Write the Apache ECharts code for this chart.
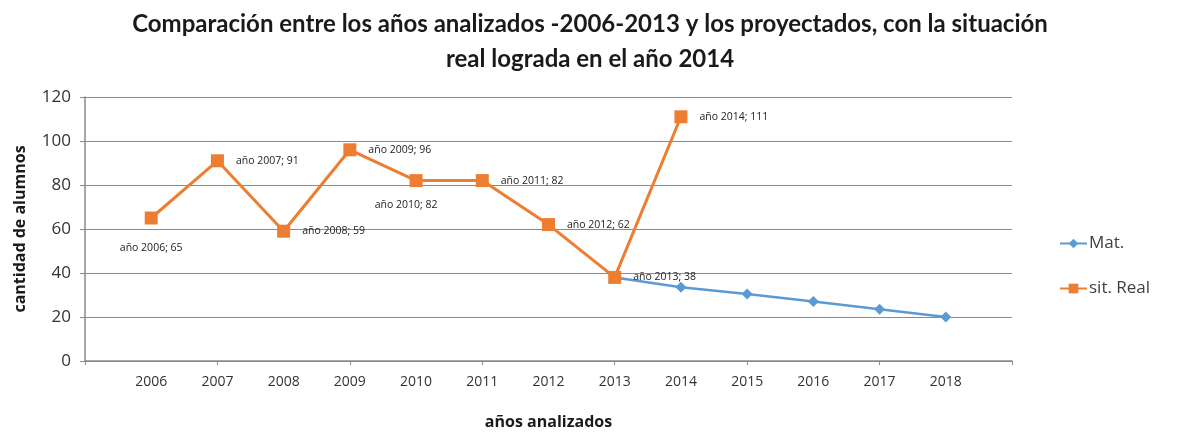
<!DOCTYPE html>
<html>
<head>
<meta charset="utf-8">
<script src="https://cdn.jsdelivr.net/npm/echarts@6/dist/echarts.min.js"></script>
<style>
html,body{margin:0;padding:0;background:#fff;}
#chart{width:1179px;height:432px;}
</style>
</head>
<body>
<div id="chart"></div>
<script>
// Categories (blank slots at both ends give the padding seen in the reference)
const categories = ['', '2006', '2007', '2008', '2009', '2010', '2011', '2012', '2013', '2014', '2015', '2016', '2017', '2018', ''];
// Series values (null = no point)
const realValues = [null, 65, 91, 59, 96, 82, 82, 62, 38, 111, null, null, null, null, null];
const matValues  = [null, null, null, null, null, null, null, null, 38, 33.5, 30.5, 27, 23.5, 20, null];
const seriesNames = ['Mat.', 'sit. Real'];
const titleText = 'Comparación entre los años analizados -2006-2013 y los proyectados, con la situación\nreal lograda en el año 2014';
const yAxisName = 'cantidad de alumnos';
const xAxisName = 'años analizados';

const belowLabels = { '2006': [0, 6], '2010': [-10, 0] };

const realData = realValues.map((v, i) => {
  if (v === null) return null;
  const cat = categories[i];
  const item = { value: v };
  if (belowLabels[cat]) {
    item.label = { position: 'bottom', offset: belowLabels[cat] };
  }
  return item;
});

const chart = echarts.init(document.getElementById('chart'));
chart.setOption({
  animation: false,
  backgroundColor: '#fff',
  textStyle: { fontFamily: 'Open Sans' },
  title: {
    text: titleText,
    left: 585,
    textAlign: 'center',
    top: 2,
    textStyle: {
      fontFamily: 'Lato',
      fontWeight: 'bold',
      fontSize: 24,
      lineHeight: 35,
      color: '#1a1a1a'
    }
  },
  legend: {
    orient: 'vertical',
    left: 1054,
    top: 230,
    itemGap: 28,
    itemWidth: 27,
    itemHeight: 12,
    data: seriesNames,
    textStyle: { fontSize: 17, color: '#404040', fontFamily: 'Open Sans', padding: [0, 0, 0, -3] }
  },
  grid: { left: 85, right: 167, top: 97, bottom: 71, outerBoundsMode: 'none', containLabel: false },
  xAxis: {
    type: 'category',
    data: categories,
    boundaryGap: false,
    name: xAxisName,
    nameLocation: 'middle',
    nameGap: 53,
    nameTextStyle: { fontWeight: 'bold', fontSize: 16, color: '#1a1a1a', fontFamily: 'Open Sans' },
    axisLine: { lineStyle: { color: '#8a8a8a', width: 1.5 } },
    axisTick: { interval: 1, length: 4, lineStyle: { color: '#8a8a8a' } },
    axisLabel: { interval: 0, fontSize: 14, color: '#333', margin: 14, fontFamily: 'Open Sans' },
    splitLine: { show: false }
  },
  yAxis: {
    type: 'value',
    min: 0,
    max: 120,
    interval: 20,
    name: yAxisName,
    nameLocation: 'middle',
    nameGap: 57,
    nameRotate: 90,
    nameTextStyle: { fontWeight: 'bold', fontSize: 16, color: '#1a1a1a', fontFamily: 'Open Sans' },
    axisLine: { show: true, lineStyle: { color: '#8a8a8a', width: 1.5 } },
    axisTick: { show: true, length: 5, lineStyle: { color: '#8a8a8a' } },
    axisLabel: { fontSize: 17, color: '#333', margin: 14, fontFamily: 'Open Sans' },
    splitLine: { lineStyle: { color: '#8f8a86', width: 1.2 } }
  },
  series: [
    {
      name: seriesNames[0],
      type: 'line',
      data: matValues,
      symbol: 'diamond',
      symbolSize: 11,
      itemStyle: { color: '#5b9bd5' },
      lineStyle: { color: '#5b9bd5', width: 2.5 },
      z: 2
    },
    {
      name: seriesNames[1],
      type: 'line',
      data: realData,
      symbol: 'rect',
      symbolSize: 13,
      itemStyle: { color: '#ed7d31' },
      lineStyle: { color: '#ed7d31', width: 3 },
      z: 3,
      label: {
        show: true,
        position: 'right',
        distance: 12,
        fontSize: 10.5,
        color: '#222',
        fontFamily: 'Open Sans',
        formatter: p => 'año ' + p.name + '; ' + p.value
      }
    }
  ]
});
</script>
</body>
</html>
